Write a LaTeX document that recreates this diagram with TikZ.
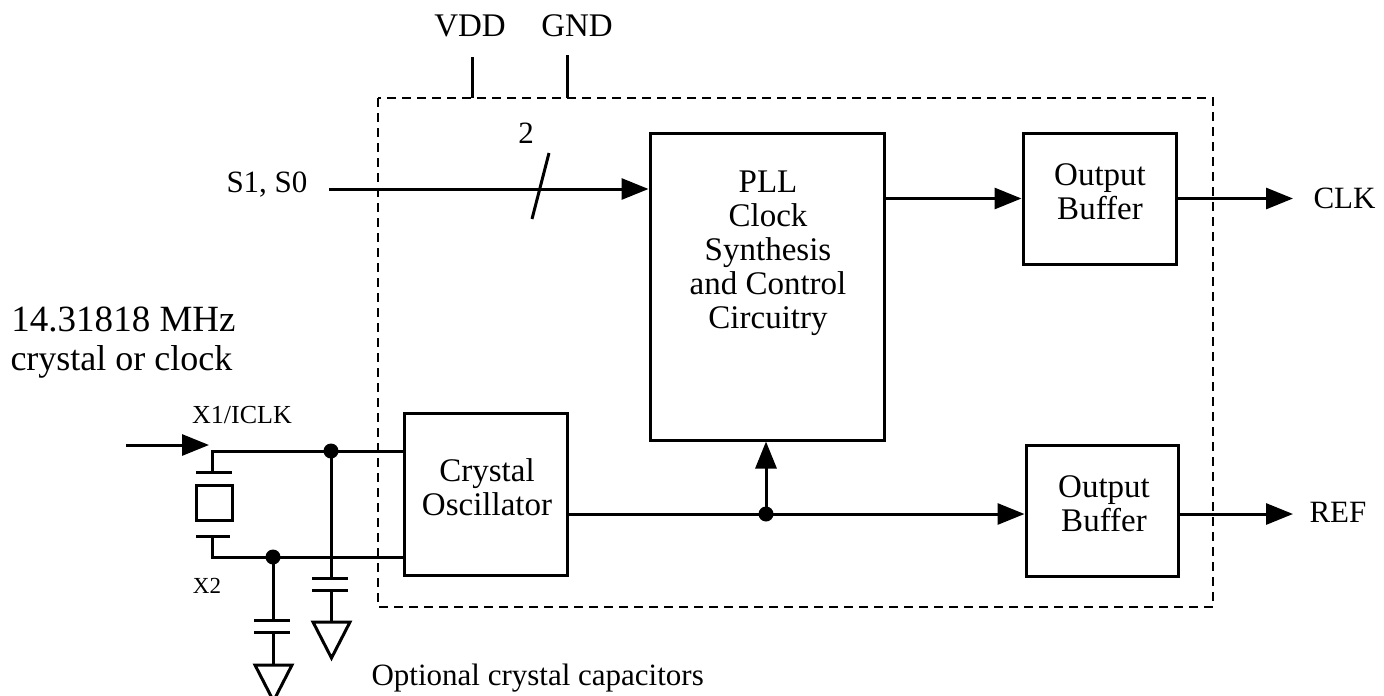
\documentclass[tikz,border=0pt]{standalone}
\usepackage{fontspec}
\setmainfont{Liberation Serif}
\usetikzlibrary{arrows.meta, calc}

\begin{document}
\begin{tikzpicture}[x=1pt, y=-1pt, line width=3pt,
    blk/.style={draw, line width=3pt, inner sep=0pt},
    txt/.style={font=\fontsize{31}{34}\selectfont, align=center, inner sep=0pt},
    blktxt/.style={txt, font=\fontsize{33}{34}\selectfont},
    sig/.style={-{Triangle[length=27pt,width=21pt]}}]
        \useasboundingbox (0,0) rectangle (1384,696);
        % chip outline and supply pins
        \draw[line width=2pt, dash pattern=on 9pt off 6pt] (378,98) rectangle (1213,607);
        \coordinate (vdd) at (472,57);
        \coordinate (gnd) at (567,55);
        \draw (vdd) -- (472,98);
        \draw (gnd) -- (567,98);
        \node (vddl) at (470,36) [txt, anchor=base, font=\fontsize{33}{36}\selectfont] {VDD};
        \node (gndl) at (577,36) [txt, anchor=base, font=\fontsize{33}{36}\selectfont] {GND};
        % blocks
        \node (pll) at (767,286.5) [blk, minimum width=234pt, minimum height=307pt] {};
        \node (plltxt) at (768,253) [blktxt] {PLL\\Clock\\Synthesis\\and Control\\Circuitry};
        \node (osc) at (485.5,494) [blk, minimum width=163pt, minimum height=162pt] {};
        \node (osctxt) at (487,487) [blktxt] {Crystal\\Oscillator};
        \node (bufa) at (1099.5,198.5) [blk, minimum width=153pt, minimum height=131pt] {};
        \node (bufatxt) at (1100,192) [blktxt] {Output\\Buffer};
        \node (bufb) at (1102,510.5) [blk, minimum width=152pt, minimum height=131pt] {};
        \node (bufbtxt) at (1104,504) [blktxt] {Output\\Buffer};
        % select inputs
        \coordinate (sel) at (329,189);
        \draw[sig] (sel) -- (sel -| pll.west);
        \draw (532,219) -- (549,153);
        \node (busw) at (526,143) [txt, anchor=base] {2};
        \node (sell) at (225,192) [txt, anchor=base west] {S1, S0};
        % outputs
        \coordinate (clk) at (1293,198.5);
        \coordinate (ref) at (1293,514);
        \coordinate (J) at (766,514);
        \draw[sig] (pll.east |- bufa.west) -- (bufa.west);
        \draw[sig] (bufa.east) -- (clk);
        \node (clkl) at (1312,208) [txt, anchor=base west] {CLK};
        \draw (osc.east |- J) -- (J);
        \draw[sig] (J) -- (J -| bufb.west);
        \draw[sig] (J) -- (J |- pll.south);
        \fill (J) circle (7.5);
        \draw[sig] (bufb.east |- ref) -- (ref);
        \node (refl) at (1308,522) [txt, anchor=base west] {REF};
        % crystal and load capacitors
        \coordinate (xin) at (126,445);
        \coordinate (A) at (331,451);
        \coordinate (B) at (273,557);
        \draw[sig] (xin) -- (209,445);
        \draw (212,472) -- (212,451) -- (A) -- (A -| osc.west);
        \draw (212,536) -- (212,557) -- (B) -- (B -| osc.west);
        \draw (196,472) -- (232,472);
        \draw (196,485) rectangle (232,520);
        \draw (196,536) -- (230,536);
        \fill (A) circle (7.5);
        \fill (B) circle (7.5);
        \draw (A) -- (331,578);
        \draw (312,578) -- (348,578);
        \draw (312,590) -- (348,590);
        \draw (331,590) -- (331,622);
        \draw[line join=miter] (313,622) -- (350,622) -- (331.5,658) -- cycle;
        \draw (B) -- (273,620);
        \draw (254,620) -- (290,620);
        \draw (254,632) -- (290,632);
        \draw (273,632) -- (273,665);
        \draw[line join=miter] (255,665) -- (292,665) -- (273.5,701) -- cycle;
        \node (x1l) at (242,423) [txt, anchor=base, font=\fontsize{26}{28}\selectfont] {X1/ICLK};
        \node (x2l) at (207,593) [txt, anchor=base, font=\fontsize{23}{25}\selectfont] {X2};
        \node (freq) at (10,331) [txt, anchor=base west, font=\fontsize{37}{39}\selectfont] {14.31818 MHz};
        \node (freq2) at (9,370) [txt, anchor=base west, font=\fontsize{36}{39}\selectfont] {crystal or clock};
        \node (capl) at (370,685) [txt, anchor=base west] {Optional crystal capacitors};
    \end{tikzpicture}
\end{document}
